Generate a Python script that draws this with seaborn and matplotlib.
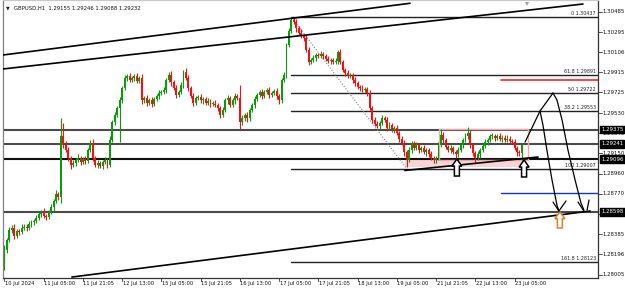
import numpy as np
import pandas as pd
import matplotlib
matplotlib.use("Agg")
import matplotlib.pyplot as plt
from matplotlib.patches import Polygon, Rectangle
from matplotlib import font_manager as fm
import seaborn as sns

sns.set_theme(style="white")
plt.rcParams['font.family'] = ['Liberation Sans Narrow', 'DejaVu Sans']

# ---------------- data (GBPUSD H1) ----------------
first_open = 1.2807
close = [
    1.2824, 1.2833, 1.2843, 1.2845, 1.2837, 1.2842, 1.2841, 1.2845, 1.2846, 1.2845, 1.2848, 1.2850, 1.2851, 1.2854, 1.2858, 1.2860,
    1.2856, 1.2855, 1.2860, 1.2864, 1.2870, 1.2877, 1.2874, 1.2931, 1.2923, 1.2918, 1.2911, 1.2904, 1.2906, 1.2909, 1.2911, 1.2907,
    1.2910, 1.2908, 1.2918, 1.2925, 1.2911, 1.2904, 1.2906, 1.2903, 1.2907, 1.2909, 1.2904, 1.2928, 1.2945, 1.2951, 1.2958, 1.2965,
    1.2977, 1.2986, 1.2988, 1.2984, 1.2986, 1.2988, 1.2983, 1.2986, 1.2965, 1.2967, 1.2963, 1.2965, 1.2962, 1.2966, 1.2969, 1.2972,
    1.2973, 1.2975, 1.2984, 1.2989, 1.2982, 1.2977, 1.2970, 1.2973, 1.2980, 1.2992, 1.2986, 1.2977, 1.2969, 1.2963, 1.2967, 1.2968,
    1.2965, 1.2966, 1.2963, 1.2964, 1.2962, 1.2962, 1.2961, 1.2958, 1.2951, 1.2956, 1.2965, 1.2967, 1.2961, 1.2965, 1.2969, 1.2967,
    1.2945, 1.2948, 1.2951, 1.2948, 1.2956, 1.2961, 1.2966, 1.2970, 1.2973, 1.2969, 1.2973, 1.2975, 1.2970, 1.2972, 1.2974, 1.2969,
    1.2965, 1.2984, 1.2989, 1.3017, 1.3031, 1.3041, 1.3039, 1.3033, 1.3029, 1.3026, 1.3024, 1.3013, 1.3001, 1.3003, 1.3005, 1.3008,
    1.3007, 1.3009, 1.3007, 1.3004, 1.3002, 1.3003, 1.3001, 1.3002, 1.3011, 1.3001, 1.2994, 1.2991, 1.2988, 1.2989, 1.2984, 1.2981,
    1.2978, 1.2977, 1.2975, 1.2976, 1.2972, 1.2958, 1.2947, 1.2943, 1.2941, 1.2944, 1.2948, 1.2947, 1.2939, 1.2942, 1.2937, 1.2939,
    1.2934, 1.2929, 1.2925, 1.2916, 1.2909, 1.2918, 1.2925, 1.2920, 1.2923, 1.2918, 1.2920, 1.2916, 1.2918, 1.2914, 1.2911, 1.2909,
    1.2911, 1.2923, 1.2932, 1.2928, 1.2921, 1.2918, 1.2920, 1.2916, 1.2914, 1.2918, 1.2923, 1.2928, 1.2931, 1.2934, 1.2923, 1.2915,
    1.2911, 1.2914, 1.2918, 1.2922, 1.2926, 1.2928, 1.2931, 1.2931, 1.2930, 1.2931, 1.2929, 1.2930, 1.2928, 1.2929, 1.2927, 1.2926,
    1.2920, 1.2916, 1.29155, 1.29232,
]
# wick lengths in pips above the body / below the body
upper_wick = [
    5, 2, 3, 2, 3, 2, 2, 3, 2, 2, 3, 2, 2, 3, 2, 2,
    3, 2, 2, 3, 2, 3, 2, 17, 13, 4, 3, 2, 3, 2, 3, 2,
    2, 3, 2, 3, 4, 2, 3, 2, 2, 3, 2, 3, 2, 3, 2, 3,
    2, 3, 2, 3, 2, 2, 3, 2, 4, 2, 3, 2, 3, 2, 2, 3,
    2, 3, 2, 3, 4, 2, 3, 2, 2, 2, 4, 3, 2, 3, 2, 2,
    3, 2, 2, 3, 2, 2, 3, 2, 2, 3, 2, 3, 2, 2, 3, 2,
    13, 3, 2, 3, 2, 2, 3, 2, 2, 3, 2, 2, 3, 2, 2, 3,
    2, 2, 3, 2, 2, 3, 3, 3, 2, 3, 2, 3, 2, 2, 3, 2,
    2, 3, 2, 2, 3, 2, 2, 3, 2, 3, 2, 2, 3, 2, 2, 3,
    2, 2, 3, 2, 2, 3, 2, 2, 3, 2, 3, 2, 2, 3, 2, 2,
    3, 2, 2, 3, 2, 3, 2, 2, 3, 2, 2, 3, 2, 2, 3, 2,
    2, 3, 6, 3, 2, 2, 3, 2, 2, 3, 2, 2, 3, 6, 3, 2,
    2, 3, 2, 2, 3, 2, 2, 3, 2, 2, 3, 2, 2, 3, 2, 2,
    3, 2, 2, 1.4,
]
lower_wick = [
    2, 3, 2, 3, 3, 2, 3, 2, 2, 3, 2, 2, 3, 2, 2, 3,
    2, 3, 2, 2, 3, 2, 3, 6, 3, 2, 3, 4, 2, 3, 2, 3,
    2, 3, 2, 2, 3, 2, 3, 2, 3, 2, 3, 2, 2, 3, 2, 32,
    2, 2, 3, 2, 2, 3, 2, 2, 3, 2, 3, 2, 3, 2, 2, 3,
    2, 2, 3, 2, 3, 2, 3, 2, 2, 3, 2, 3, 2, 3, 2, 2,
    2, 3, 2, 2, 3, 2, 2, 3, 3, 2, 2, 3, 2, 2, 3, 2,
    7, 3, 2, 3, 2, 2, 3, 2, 2, 3, 2, 2, 3, 2, 2, 3,
    3, 2, 2, 3, 2, 2, 2, 3, 2, 2, 3, 2, 3, 2, 2, 3,
    2, 2, 3, 2, 2, 3, 2, 2, 3, 2, 2, 3, 2, 2, 3, 2,
    2, 3, 2, 2, 3, 2, 3, 2, 2, 3, 2, 2, 3, 2, 2, 3,
    2, 3, 2, 3, 7, 2, 3, 2, 2, 3, 2, 2, 3, 2, 2, 3,
    3, 2, 2, 3, 2, 2, 3, 2, 3, 2, 2, 3, 2, 2, 3, 2,
    4, 2, 3, 2, 2, 3, 2, 2, 3, 2, 2, 3, 2, 2, 3, 2,
    2, 3, 3, 6.7,
]

time_tick_bars = [0, 16, 32, 48, 64, 80, 96, 112, 128, 144, 160, 176, 192, 208]
time_labels = ["10 Jul 2024", "11 Jul 05:00", "11 Jul 21:05", "12 Jul 13:00", "15 Jul 05:00",
               "15 Jul 21:05", "16 Jul 13:00", "17 Jul 05:00", "17 Jul 21:05", "18 Jul 13:00",
               "19 Jul 05:00", "21 Jul 21:05", "22 Jul 13:00", "23 Jul 05:00"]
price_ticks = [1.30485, 1.30295, 1.30106, 1.29915, 1.29725, 1.29530, 1.29340,
               1.29150, 1.28960, 1.28770, 1.28580, 1.28385, 1.28196, 1.28005]

hlines_full = [1.29375, 1.29241, 1.29096, 1.28598]
fib_ratio = ["0", "61.8", "50", "38.2", "100", "161.8"]
fib_price = [1.30437, 1.29891, 1.29722, 1.29553, 1.29007, 1.28123]
fib_start_bar = 117
fib_end_bar = 164
red_level = 1.29843
blue_level = 1.28773
short_level_start = 202.5

chan_a = ([-0.61, 165.4], [1.30079, 1.30567])
chan_b = ([-0.61, 235.9], [1.29947, 1.30560])
chan_c = ([27.5, 238.8], [1.27983, 1.28606])
trend_t = ([163.3, 217.6], [1.28989, 1.29116])

path_up_x = [212.3, 218.4, 223.7]
path_up_y = [1.29257, 1.29550, 1.29720]
curve1_x = [218.4, 219.6, 221.2, 223.3, 225.3, 226.1]
curve1_y = [1.29550, 1.29418, 1.29182, 1.28899, 1.28663, 1.28606]
curve2_x = [223.7, 225.3, 227.4, 229.8, 232.7, 235.1, 236.3]
curve2_y = [1.29720, 1.29654, 1.29465, 1.29182, 1.28899, 1.28682, 1.28616]

title_text = "GBPUSD,H1  1.29155 1.29246 1.29088 1.29232"

# ---------------- font: prefer a condensed sans ----------------
def pick_condensed():
    best = None
    for f in fm.fontManager.ttflist:
        name = f.name.lower()
        fname = f.fname.lower()
        if f.style != "normal" or f.weight not in (400, "normal", "regular", "book"):
            continue
        cond = ("narrow" in name or "condensed" in name or "condensed" in fname
                or "narrow" in fname or str(f.stretch) in ("condensed", "semi-condensed"))
        if not cond or "bold" in fname or "light" in fname or "oblique" in fname or "italic" in fname:
            continue
        score = 0 if "liberation" in name else (1 if "dejavu" in name else 2)
        if best is None or score < best[0]:
            best = (score, f.fname)
    return best[1] if best else None

cond_path = pick_condensed()


def fp(size):
    if cond_path:
        return fm.FontProperties(fname=cond_path, size=size)
    return fm.FontProperties(family="Liberation Sans", size=size)


# ---------------- build frame ----------------
opens = [first_open] + close[:-1]
opens[-1] = 1.29155
df = pd.DataFrame({"bar": np.arange(len(close)), "open": opens, "close": close,
                   "up": upper_wick, "dn": lower_wick})
df["top"] = df[["open", "close"]].max(axis=1)
df["bot"] = df[["open", "close"]].min(axis=1)
df["high"] = df["top"] + df["up"] * 0.0001
df["low"] = df["bot"] - df["dn"] * 0.0001
df["dir"] = np.where(df["close"] >= df["open"], "bull", "bear")

XMIN, XMAX = -0.61, 242.05
YMIN, YMAX = 1.27974, 1.30598
W, H = 625, 291
fig = plt.figure(figsize=(W / 100, H / 100), dpi=100)
ax = fig.add_axes([3 / W, 13 / H, 595 / W, 278 / H])
ax.set_xlim(XMIN, XMAX)
ax.set_ylim(YMIN, YMAX)
PXX = 595 / (XMAX - XMIN)
PXY = 278 / (YMAX - YMIN)

renderer = fig.canvas.get_renderer()


def fit_size(sample, target_px, base=6.0):
    t = fig.text(0, 0, sample, fontproperties=fp(base))
    w = t.get_window_extent(renderer).width
    t.remove()
    return base * target_px / w


S_PRICE = fit_size("1.30485", 22.5)
S_TIME = fit_size("11 Jul 05:00", 31)
S_TITLE = fit_size(title_text, 128)
S_FIB = fit_size("61.8 1.29891", 32)
TXT = "#111111"

GREEN, RED = "#0a9a0a", "#f41010"
pal = {"bull": GREEN, "bear": RED}

for d, g in df.groupby("dir"):
    ax.vlines(g["bar"], g["low"], g["high"], colors=pal[d], lw=0.8, zorder=3)
    ax.bar(g["bar"], np.maximum(g["top"] - g["bot"], 0.0001), bottom=g["bot"],
           width=0.78, color=pal[d], linewidth=0, zorder=4)

for p in hlines_full:
    c = "#111111" if p == 1.29096 else "#4a4a4a"
    ax.axhline(p, color=c, lw=1.5, zorder=2)

for r, p in zip(fib_ratio, fib_price):
    ax.plot([fib_start_bar, XMAX], [p, p], color="#222222", lw=1.0, zorder=2)
    ax.text(XMAX - 2 / PXX, p + 0.8 / PXY, f"{r} {p:.5f}", ha="right", va="bottom",
            fontproperties=fp(S_FIB), color="#222222", zorder=6)
ax.plot([fib_start_bar, fib_end_bar], [fib_price[0], fib_price[4]], color="#808080",
        lw=0.8, ls=(0, (1, 1.6)), zorder=2)

ax.plot([short_level_start, XMAX], [red_level, red_level], color="#ff2020", lw=1.2, zorder=2)
ax.plot([short_level_start, XMAX], [blue_level, blue_level], color="#1030e0", lw=1.0, zorder=2)

for xs, ys in (chan_a, chan_b, chan_c):
    ax.plot(xs, ys, color="black", lw=1.2, zorder=5)
ax.plot(trend_t[0], trend_t[1], color="black", lw=1.2, zorder=6)

ax.add_patch(Rectangle((163.3, 1.29021), 211.1 - 163.3, 1.29106 - 1.29021,
                       facecolor="#f9c8cf", edgecolor="none", alpha=0.8, zorder=1))
ax.add_patch(Rectangle((177.2, 1.29088), 213.5 - 177.2, 1.29380 - 1.29088,
                       facecolor="none", edgecolor="#f3a7b0", lw=1.0, zorder=2))

ax.plot(path_up_x, path_up_y, color="black", lw=0.9, zorder=6)
ax.plot(curve1_x, curve1_y, color="black", lw=0.9, zorder=6)
ax.plot(curve2_x, curve2_y, color="black", lw=0.9, zorder=6)
ax.plot([223.7, 226.1, 229.0], [1.28691, 1.28606, 1.28701], color="black", lw=0.9, zorder=6)
ax.plot([233.9, 236.3], [1.28691, 1.28606], color="black", lw=0.9, zorder=6)
ax.plot([238.4, 237.6], [1.28710, 1.28616], color="black", lw=0.9, zorder=6)


def block_arrow(tx, ty, w, h, ec, lw=1.0):
    hw = w / 2 / PXX
    sw = w / 4 / PXX
    hh = 0.42 * h / PXY
    th = h / PXY
    pts = [(tx, ty), (tx - hw, ty - hh), (tx - sw, ty - hh), (tx - sw, ty - th),
           (tx + sw, ty - th), (tx + sw, ty - hh), (tx + hw, ty - hh)]
    ax.add_patch(Polygon(pts, closed=True, facecolor="white", edgecolor=ec, lw=lw, zorder=7))


block_arrow(184.5, 1.29097, 10, 17, "black", 1.1)
block_arrow(211.9, 1.29088, 10, 17, "black", 1.1)
block_arrow(226.5, 1.28597, 10, 16, "#d9822b", 1.1)

for s in ["left", "bottom", "right", "top"]:
    ax.spines[s].set_visible(True)
ax.spines["left"].set_color("#808080")
ax.spines["top"].set_color("#c8c8c8")
ax.spines["bottom"].set_color("#333333")
ax.spines["right"].set_color("#333333")
for s in ax.spines.values():
    s.set_linewidth(0.9)
ax.set_xticks([])
ax.set_yticks([])

ytr = ax.get_yaxis_transform()
for p in price_ticks:
    py = min(p, YMAX - 5 / PXY)
    ax.plot([1.0, 1.006], [p, p], transform=ytr, color="#333333", lw=0.6, clip_on=False)
    if min(abs(p - h) for h in hlines_full) < 0.00025:
        continue  # fully hidden behind a highlighted level box
    ax.text(1.0075, py, f"{p:.5f}", transform=ytr, ha="left", va="center",
            fontproperties=fp(S_PRICE), color=TXT, clip_on=False)
for p in hlines_full:
    ax.text(1.0050, p, f"{p:.5f}", transform=ytr, ha="left", va="center",
            fontproperties=fp(S_PRICE), color="white", clip_on=False, zorder=10,
            bbox=dict(boxstyle="square,pad=0.22", fc="black", ec="black"))

xtr = ax.get_xaxis_transform()
for b, lab in zip(time_tick_bars, time_labels):
    ax.plot([b, b], [0, -3 / 278], transform=xtr, color="#333333", lw=0.6, clip_on=False)
    ax.text(b + 0.2, -2.5 / 278, lab, transform=xtr, ha="left", va="top",
            fontproperties=fp(S_TIME), color=TXT, clip_on=False)

ax.text(3 / 595, 1 - 8 / 278, "\u25bc", transform=ax.transAxes, fontsize=3.5,
        va="center", ha="left", family=["DejaVu Sans"], color="#222222")
ax.text(11 / 595, 1 - 8 / 278, title_text,
        transform=ax.transAxes, fontproperties=fp(S_TITLE), va="center", ha="left", color=TXT)
ax.add_patch(Polygon([(213.1 - 2 / PXX, YMAX - 2 / PXY), (213.1 + 2 / PXX, YMAX - 2 / PXY),
                      (213.1, YMAX - 6 / PXY)], closed=True, facecolor="#a0a0a0",
                     edgecolor="none", zorder=8))

fig.savefig("out.png", dpi=100)
